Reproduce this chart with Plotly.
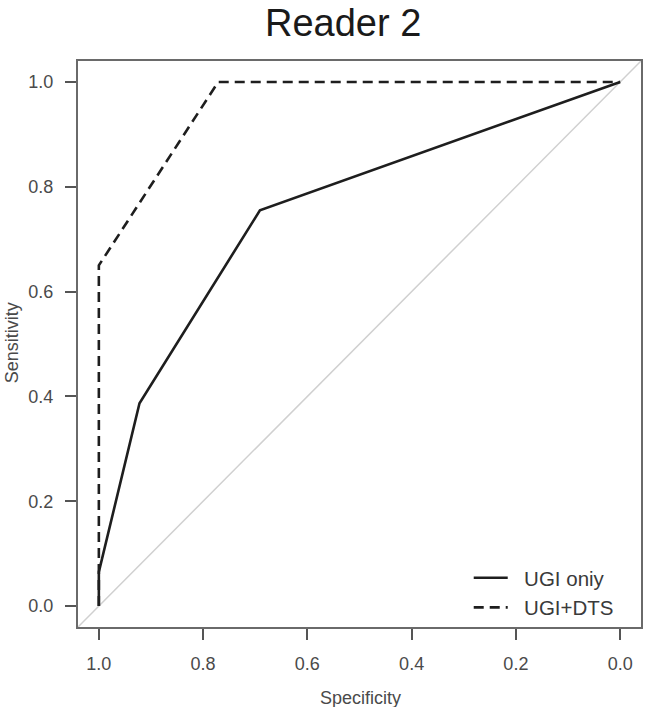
import plotly.graph_objects as go

# ROC data
ugi_spec = [1.0, 1.0, 0.922, 0.691, 0.0]
ugi_sens = [0.0, 0.065, 0.387, 0.755, 1.0]
dts_spec = [1.0, 1.0, 0.771, 0.0]
dts_sens = [0.0, 0.65, 1.0, 1.0]
series_names = ["UGI oniy", "UGI+DTS"]
tick_vals = [0.0, 0.2, 0.4, 0.6, 0.8, 1.0]
tick_text = ["0.0", "0.2", "0.4", "0.6", "0.8", "1.0"]

x_range = [1.04, -0.04]
y_range = [-0.04, 1.04]

FONT = "Liberation Sans, Arial, Helvetica, sans-serif"
GAP = "\u00a0\u00a0"  # extra gap between legend line sample and its text

fig = go.Figure()

# identity line (abline-like, spans the whole plot region)
fig.add_trace(go.Scatter(
    x=[x_range[0], x_range[1]], y=[1 - x_range[0], 1 - x_range[1]],
    mode="lines", line=dict(color="#d0d0d0", width=1.5),
    showlegend=False, hoverinfo="skip"))

fig.add_trace(go.Scatter(
    x=ugi_spec, y=ugi_sens, mode="lines", name=GAP + series_names[0],
    line=dict(color="#1e1e1e", width=2.6)))
fig.add_trace(go.Scatter(
    x=dts_spec, y=dts_sens, mode="lines", name=GAP + series_names[1],
    line=dict(color="#1e1e1e", width=2.6, dash="10px,6px")))

axis_common = dict(
    showgrid=False, zeroline=False, showline=True, mirror=True,
    linecolor="#6a6a6a", linewidth=2,
    ticks="outside", ticklen=11, tickwidth=1.5, tickcolor="#555",
    tickvals=tick_vals, ticktext=tick_text,
    tickfont=dict(family=FONT, size=18, color="#4a4a4a"),
)

fig.update_layout(
    width=645, height=707,
    margin=dict(l=78, r=2, t=61, b=80),
    plot_bgcolor="white", paper_bgcolor="white",
    xaxis=dict(range=x_range, ticklabelstandoff=8, **axis_common),
    yaxis=dict(range=y_range, ticklabelstandoff=8, **axis_common),
    showlegend=True,
    legend=dict(
        x=0.694, y=0.122, xanchor="left", yanchor="top",
        bgcolor="rgba(0,0,0,0)", borderwidth=0,
        font=dict(family=FONT, size=20.5, color="#3a3a3a"),
        itemwidth=34, tracegroupgap=0,
    ),
    annotations=[
        dict(text="Reader 2", xref="paper", yref="paper",
             x=(344 - 78) / 565, y=1 + (61 - 23) / 566,
             xanchor="center", yanchor="middle", showarrow=False,
             font=dict(family=FONT, size=38, color="#1a1a1a")),
        dict(text="Specificity", xref="paper", yref="paper",
             x=(362 - 78) / 565, y=-(698 - 627) / 566,
             xanchor="center", yanchor="middle", showarrow=False,
             font=dict(family=FONT, size=18, color="#4a4a4a")),
        dict(text="Sensitivity", xref="paper", yref="paper",
             x=-(78 - 12) / 565, y=(627 - 343) / 566,
             xanchor="center", yanchor="middle", showarrow=False,
             textangle=-90,
             font=dict(family=FONT, size=18, color="#4a4a4a")),
    ],
)

fig.write_html("out.html")
